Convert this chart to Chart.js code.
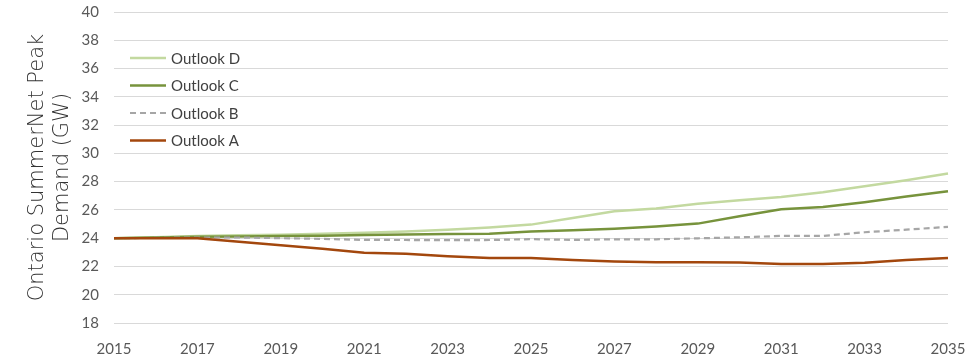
<!DOCTYPE html>
<html>
<head>
<meta charset="utf-8">
<script src="https://cdn.jsdelivr.net/npm/chart.js@4"></script>
<style>
html,body{margin:0;padding:0;background:#fff;}
#wrap{width:975px;height:361px;position:relative;}
</style>
</head>
<body>
<div id="wrap"><canvas id="c" width="975" height="361"></canvas></div>
<script>
const years = ['2015','2016','2017','2018','2019','2020','2021','2022','2023','2024','2025','2026','2027','2028','2029','2030','2031','2032','2033','2034','2035'];
const outlookA = [24.0,24.0,24.0,23.75,23.5,23.25,22.97,22.9,22.73,22.59,22.59,22.45,22.35,22.3,22.3,22.28,22.17,22.17,22.27,22.45,22.6];
const outlookB = [24.0,24.02,24.05,24.05,24.0,23.95,23.88,23.87,23.86,23.87,23.93,23.88,23.92,23.92,23.99,24.06,24.16,24.16,24.42,24.6,24.8];
const outlookC = [24.0,24.05,24.1,24.12,24.15,24.18,24.22,24.26,24.3,24.32,24.47,24.56,24.66,24.82,25.03,25.55,26.05,26.2,26.55,26.95,27.32];
const outlookD = [24.0,24.07,24.15,24.2,24.25,24.32,24.38,24.47,24.6,24.76,24.96,25.42,25.9,26.1,26.43,26.68,26.92,27.25,27.67,28.1,28.57];
const yTicks = {min:18, max:40, step:2};
const yTitle = ['Ontario SummerNet Peak','Demand (GW)'];

const legendPlugin = {
  id:'insideLegend',
  afterDraw(chart){
    const ctx = chart.ctx, ca = chart.chartArea;
    const order = [3,2,1,0];
    ctx.save();
    order.forEach((di,i)=>{
      const ds = chart.data.datasets[di];
      const y = ca.top + 46 + i*27.5;
      const x0 = ca.left + 16;
      ctx.beginPath();
      ctx.strokeStyle = ds.borderColor;
      ctx.lineWidth = ds.borderWidth;
      ctx.setLineDash(ds.borderDash || []);
      ctx.moveTo(x0, y); ctx.lineTo(x0+36, y);
      ctx.stroke();
      ctx.setLineDash([]);
      ctx.fillStyle = '#404040';
      ctx.font = '15px Lato';
      ctx.textBaseline = 'middle';
      ctx.textAlign = 'left';
      ctx.fillText(ds.label, x0+41, y+1);
    });
    ctx.restore();
  }
};

new Chart(document.getElementById('c'), {
  type:'line',
  data:{
    labels: years,
    datasets:[
      {label:'Outlook A', data:outlookA, borderColor:'#A3470D', borderWidth:2.5, pointRadius:0, tension:0},
      {label:'Outlook B', data:outlookB, borderColor:'#A6A6A6', borderWidth:2.2, borderDash:[6,4], pointRadius:0, tension:0},
      {label:'Outlook C', data:outlookC, borderColor:'#77933C', borderWidth:2.5, pointRadius:0, tension:0},
      {label:'Outlook D', data:outlookD, borderColor:'#C3D9A0', borderWidth:2.5, pointRadius:0, tension:0}
    ]
  },
  options:{
    responsive:false,
    animation:false,
    layout:{padding:{top:12,right:27,left:0,bottom:0}},
    plugins:{legend:{display:false}, tooltip:{enabled:false}},
    scales:{
      x:{
        grid:{display:false, drawTicks:false},
        border:{display:false},
        ticks:{
          autoSkip:false, maxRotation:0, padding:17,
          color:'#595959', font:{family:'Lato', size:15},
          callback:function(v,i){ return i%2===0 ? this.getLabelForValue(v) : ''; }
        },
        afterFit(scale){ scale.height = 38; scale.paddingLeft = 0; scale.paddingRight = 0; }
      },
      y:{
        min:yTicks.min, max:yTicks.max,
        grid:{color:'#D9D9D9', lineWidth:1, drawTicks:false},
        border:{display:false},
        ticks:{stepSize:yTicks.step, padding:15, color:'#595959', font:{family:'Lato', size:15}},
        title:{display:true, text:yTitle, color:'#333333', font:{family:'DejaVu Sans', size:21, weight:'200', lineHeight:1.2}, padding:{top:25,bottom:0}},
        afterFit(scale){ scale.width = 114; scale.paddingTop = 0; scale.paddingBottom = 0; }
      }
    }
  },
  plugins:[legendPlugin]
});
</script>
</body>
</html>
